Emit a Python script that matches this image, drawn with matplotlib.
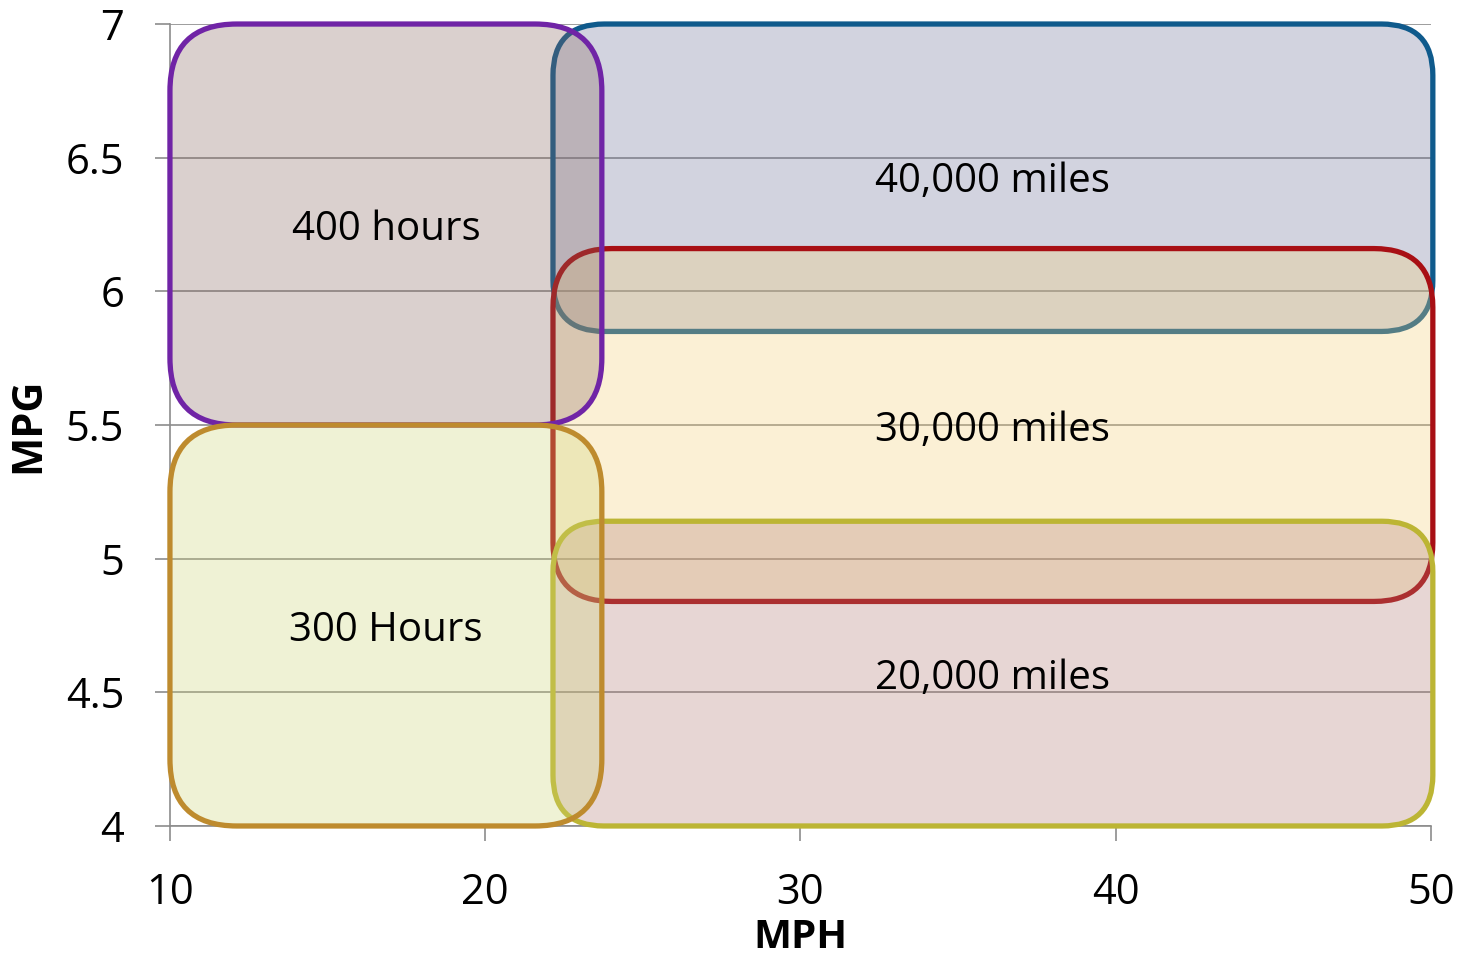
import matplotlib
matplotlib.use("Agg")
import matplotlib.pyplot as plt
from matplotlib.patches import FancyBboxPatch
from matplotlib.ticker import FormatStrFormatter

plt.rcParams['font.family'] = ['Open Sans', 'DejaVu Sans']

# operating regions: label, x range (MPH), y range (MPG)
labels = ['40,000 miles', '30,000 miles', '20,000 miles', '400 hours', '300 Hours']
x_lo = [22.15, 22.15, 22.15, 10.0, 10.0]
x_hi = [50.06, 50.06, 50.06, 23.7, 23.7]
y_lo = [5.85, 4.84, 4.0, 5.5, 4.0]
y_hi = [7.0, 6.16, 5.14, 7.0, 5.5]
label_y = [6.41, 5.48, 4.55, 6.23, 4.73]

edge_colors = ['#0F5A8C', '#A80F14', '#BCB534', '#7024A6', '#BE8B2E']
fill_colors = ['#6C7098', '#F5D076', '#B27A73', '#87665F', '#CDD476']

x_ticks = [10, 20, 30, 40, 50]
y_ticks = [4, 4.5, 5, 5.5, 6, 6.5, 7]

fig = plt.figure(figsize=(14.6, 9.57), dpi=100)
ax = fig.add_axes([0.1164, 0.1369, 0.8637, 0.8380])
ax.set_xlim(10, 50)
ax.set_ylim(4, 7)

ax.set_xticks(x_ticks)
ax.set_yticks(y_ticks)
ax.yaxis.set_major_formatter(FormatStrFormatter('%g'))
ax.tick_params(axis='both', direction='out', length=11, width=1.2,
               color='#8C8C8C', labelsize=30, pad=22)

ax.yaxis.grid(True, color='#8C8C8C', linewidth=1.2)
ax.set_axisbelow(True)
for side in ['top', 'right']:
    ax.spines[side].set_visible(False)
for side in ['left', 'bottom']:
    ax.spines[side].set_color('#8C8C8C')
    ax.spines[side].set_linewidth(1.2)

ax.set_xlabel('MPH', fontsize=29, fontweight='bold', labelpad=3)
ax.set_ylabel('MPG', fontsize=30, fontweight='bold', labelpad=12)

# pixel scale of each axis so corners come out circular
p0 = ax.transData.transform((0, 0))
px_x = ax.transData.transform((1, 0))[0] - p0[0]
px_y = ax.transData.transform((0, 1))[1] - p0[1]
aspect = px_x / px_y

for i in range(len(labels)):
    w = x_hi[i] - x_lo[i]
    h = y_hi[i] - y_lo[i]
    radius_px = min(w * px_x, h * px_y) / 6.0
    box = FancyBboxPatch((x_lo[i], y_lo[i]), w, h,
                         boxstyle='round,pad=0,rounding_size=%f' % (radius_px / px_x),
                         mutation_aspect=aspect,
                         facecolor=matplotlib.colors.to_rgba(fill_colors[i], 0.3),
                         edgecolor=edge_colors[i], linewidth=3.8,
                         clip_on=False, zorder=2 + i)
    ax.add_patch(box)

for i in range(len(labels)):
    ax.text((x_lo[i] + x_hi[i]) / 2, label_y[i], labels[i], fontsize=29,
            ha='center', va='center', color='black', zorder=10)

fig.savefig('out.png', dpi=100)
